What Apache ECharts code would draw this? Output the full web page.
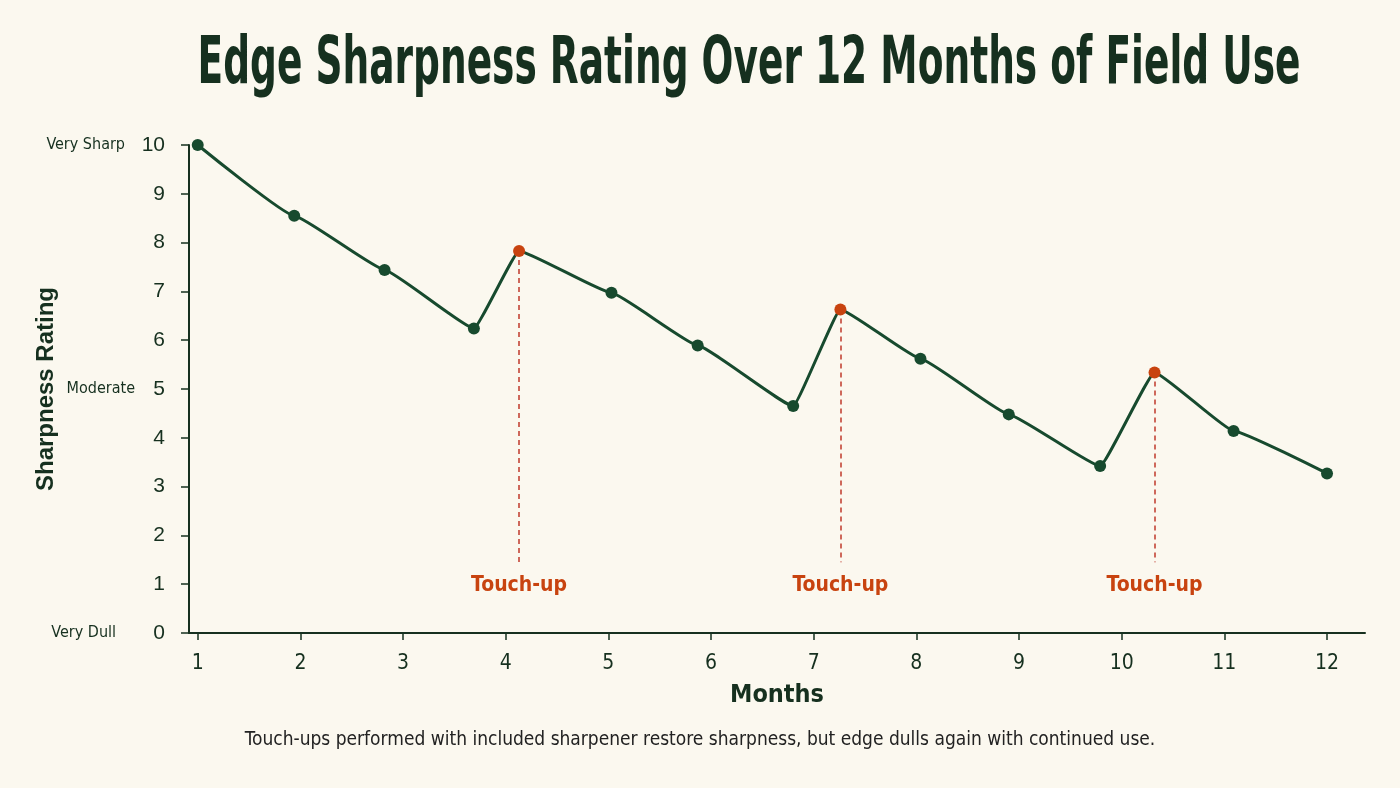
<!DOCTYPE html>
<html>
<head>
<meta charset="utf-8">
<script src="https://cdn.jsdelivr.net/npm/echarts@6/dist/echarts.min.js"></script>
<style>
html,body{margin:0;padding:0;background:#FBF8EF;}
#chart{width:1400px;height:788px;}
</style>
</head>
<body>
<div id="chart"></div>
<script>
// ---- data ----
var months = [1.00, 1.94, 2.82, 3.69, 4.13, 5.03, 5.87, 6.80, 7.26, 8.04, 8.90, 9.79, 10.32, 11.09, 12.00];
var ratings = [10.0, 8.55, 7.44, 6.24, 7.83, 6.97, 5.89, 4.65, 6.63, 5.62, 4.48, 3.42, 5.34, 4.14, 3.27];
var touchUpIdx = [4, 8, 12];
var xTicks = [1,2,3,4,5,6,7,8,9,10,11,12];
var yTicks = [0,1,2,3,4,5,6,7,8,9,10];
var qualLabels = {10: 'Very Sharp', 5: 'Moderate', 0: 'Very Dull'};
var touchLabel = 'Touch-up';
var touchLineBottom = 1.45;
var titleText = 'Edge Sharpness Rating Over 12 Months of Field Use';
var noteText = 'Touch-ups performed with included sharpener restore sharpness, but edge dulls again with continued use.';

var GREEN = '#174A2E';
var DARK = '#16301F';
var ORANGE = '#C8430F';
var COND = '"Liberation Sans Narrow","DejaVu Sans Condensed","Roboto Condensed",sans-serif';

// measure title to condense it horizontally
var titleFont = 'bold 66px ' + COND;
var ctx = document.createElement('canvas').getContext('2d');
ctx.font = titleFont;
var titleW = ctx.measureText(titleText).width;
var titleScale = 1103 / titleW;

var lineData = months.map(function(m, i){
  var isT = touchUpIdx.indexOf(i) >= 0;
  return {value:[m, ratings[i]], itemStyle:{color: isT ? ORANGE : GREEN}};
});
var markLines = touchUpIdx.map(function(i){
  return [{coord:[months[i], ratings[i]]},{coord:[months[i], touchLineBottom]}];
});

var chart = echarts.init(document.getElementById('chart'));
chart.setOption({
  backgroundColor:'#FBF8EF',
  animation:false,
  graphic:[{
    type:'text', x:749, y:66, originX:0, originY:0, scaleX:titleScale,
    style:{text:titleText, font:titleFont, fill:DARK, align:'center', verticalAlign:'middle'}
  },{
    type:'text', left:'center', top:731,
    style:{text:noteText, font:'19px ' + COND, fill:'#222'}
  }],
  grid:{left:189, right:35, top:145, bottom:155, containLabel:false, outerBoundsMode:'none'},
  xAxis:{
    type:'value', min:0.915, max:12.37,
    name:'Months', nameLocation:'middle', nameGap:50,
    nameTextStyle:{fontFamily:COND, fontWeight:'bold', fontSize:25, color:DARK},
    axisLine:{show:true, lineStyle:{color:DARK, width:2}},
    axisTick:{show:true, customValues:xTicks, length:7, lineStyle:{color:DARK, width:1.5}},
    axisLabel:{customValues:xTicks, margin:20, fontFamily:COND, fontSize:21, color:DARK},
    splitLine:{show:false}
  },
  yAxis:{
    type:'value', min:0, max:10, interval:1,
    name:'Sharpness Rating', nameLocation:'middle', nameGap:131, nameRotate:90,
    nameMoveOverlap:false,
    nameTextStyle:{fontFamily:'"Liberation Sans",Arial,sans-serif', fontWeight:'bold', fontSize:24, color:DARK},
    axisLine:{show:true, lineStyle:{color:DARK, width:2}},
    axisTick:{show:true, length:8, lineStyle:{color:DARK, width:1.5}},
    axisLabel:{
      margin:24, color:DARK,
      formatter:function(v){
        var q = qualLabels[v];
        if (q) { return '{' + (v===0 ? 'qd' : (v===5 ? 'qm' : 'q')) + '|' + q + '}{n|' + v + '}'; }
        return '{n|' + v + '}';
      },
      rich:{
        n:{fontFamily:'"Liberation Sans",Arial,sans-serif', fontSize:21, color:DARK, width:28, align:'right'},
        q:{fontFamily:COND, fontSize:16, color:DARK, padding:[0,12,0,0]},
        qm:{fontFamily:COND, fontSize:16, color:DARK, padding:[0,2,0,0]},
        qd:{fontFamily:COND, fontSize:16, color:DARK, padding:[0,21,0,0]}
      }
    },
    splitLine:{show:false}
  },
  series:[{
    type:'line',
    data:lineData,
    smooth:0.1,
    smoothMonotone:'x',
    symbol:'circle', symbolSize:12,
    lineStyle:{color:GREEN, width:3},
    z:3,
    markLine:{
      silent:true, symbol:['none','none'],
      lineStyle:{color:'#C0392B', type:[5,4], width:1.5},
      label:{show:true, position:'end', distance:13, formatter:touchLabel,
        fontFamily:COND, fontWeight:'bold', fontSize:21, color:ORANGE},
      data:markLines,
      z:1
    }
  }]
});
</script>
</body>
</html>
